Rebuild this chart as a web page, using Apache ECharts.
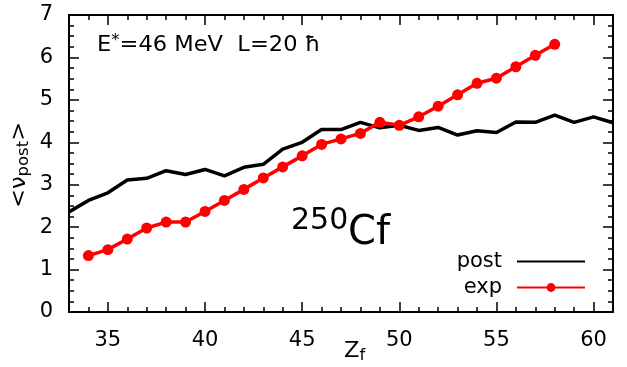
<!DOCTYPE html>
<html>
<head>
<meta charset="utf-8">
<script src="https://cdn.jsdelivr.net/npm/echarts@6/dist/echarts.min.js"></script>
<style>
  html, body { margin: 0; padding: 0; background: #fff; }
  #chart { width: 627px; height: 367px; }
</style>
</head>
<body>
<div id="chart"></div>
<script>
// ---- data ----
const postZ = [33,34,35,36,37,38,39,40,41,42,43,44,45,46,47,48,49,50,51,52,53,54,55,56,57,58,59,60,61];
const postV = [2.36,2.63,2.81,3.11,3.15,3.33,3.24,3.36,3.21,3.41,3.48,3.84,4.00,4.30,4.30,4.47,4.34,4.40,4.28,4.35,4.17,4.27,4.23,4.48,4.47,4.64,4.47,4.60,4.46];
const expZ = [34,35,36,37,38,39,40,41,42,43,44,45,46,47,48,49,50,51,52,53,54,55,56,57,58];
const expV = [1.33,1.47,1.72,1.98,2.12,2.12,2.37,2.63,2.89,3.16,3.42,3.68,3.95,4.08,4.21,4.47,4.40,4.60,4.85,5.12,5.39,5.51,5.78,6.05,6.31];
const xMajorTicks = [35,40,45,50,55,60];
const xMinorTicks = [33,34,35,36,37,38,39,40,41,42,43,44,45,46,47,48,49,50,51,52,53,54,55,56,57,58,59,60,61];
const seriesNames = ['post','exp'];

const FONT = 'DejaVu Sans';
const SX = 1.1; // horizontal text stretch seen in the reference
const chart = echarts.init(document.getElementById('chart'), null, {renderer: 'canvas'});

function xAxisDef(pos, major) {
  return {
    type: 'value', min: 33, max: 61, position: pos,
    axisLine: {show: major, onZero: false, lineStyle: {color: '#000', width: 2}},
    axisTick: {show: true, inside: true, length: major ? 10 : 5,
      customValues: major ? xMajorTicks : xMinorTicks,
      lineStyle: {color: '#000', width: 1.5}},
    axisLabel: {show: major && pos === 'bottom', customValues: xMajorTicks,
      fontFamily: FONT, fontSize: 21, color: '#000', margin: 18},
    splitLine: {show: false}
  };
}
function yAxisDef(pos) {
  return {
    type: 'value', min: 0, max: 7, interval: 1, position: pos,
    axisLine: {show: true, onZero: false, lineStyle: {color: '#000', width: 2}},
    axisTick: {show: true, inside: true, length: 10, lineStyle: {color: '#000', width: 1.5}},
    minorTick: {show: true, splitNumber: 4, length: 5, lineStyle: {color: '#000', width: 1.5}},
    axisLabel: {show: pos === 'left', fontFamily: FONT, fontSize: 21, color: '#000', margin: 16},
    splitLine: {show: false}
  };
}

const option = {
  animation: false,
  backgroundColor: '#fff',
  grid: {left: 69, right: 14, top: 15, bottom: 55, containLabel: false},
  xAxis: [xAxisDef('bottom', true), xAxisDef('bottom', false), xAxisDef('top', true), xAxisDef('top', false)],
  yAxis: [yAxisDef('left'), yAxisDef('right')],
  legend: {
    data: [
      {name: seriesNames[0], itemStyle: {opacity: 0}},
      {name: seriesNames[1]}
    ],
    orient: 'vertical',
    align: 'right',
    right: 36,
    top: 246,
    itemWidth: 68,
    itemHeight: 11,
    itemGap: 5,
    textStyle: {fontFamily: FONT, fontSize: 21, color: '#000', padding: [0, 10, 0, 0]}
  },
  series: [
    {
      name: seriesNames[0], type: 'line', xAxisIndex: 0, yAxisIndex: 0,
      data: postZ.map((z, i) => [z, postV[i]]),
      showSymbol: false, symbol: 'none',
      lineStyle: {color: '#000', width: 3.5},
      itemStyle: {color: '#000'}
    },
    {
      name: seriesNames[1], type: 'line', xAxisIndex: 0, yAxisIndex: 0,
      data: expZ.map((z, i) => [z, expV[i]]),
      symbol: 'circle', symbolSize: 11,
      lineStyle: {color: '#ff0000', width: 3.5},
      itemStyle: {color: '#ff0000'}
    }
  ],
  graphic: [
    {
      type: 'text', x: 97, y: 34, scaleX: SX,
      style: {
        text: '{a|E}{s|*}{a|=46 MeV  L=20 ħ}',
        rich: {
          a: {fontFamily: FONT, fontSize: 20.5, color: '#000', lineHeight: 24},
          s: {fontFamily: FONT, fontSize: 15, color: '#000', verticalAlign: 'top', lineHeight: 24}
        }
      }
    },
    {
      type: 'text', x: 291, y: 221,
      style: {text: '250', fontFamily: FONT, fontSize: 30, fill: '#000', verticalAlign: 'middle', align: 'left'}
    },
    {
      type: 'text', x: 348, y: 234,
      style: {text: 'Cf', fontFamily: FONT, fontSize: 40, fill: '#000', verticalAlign: 'middle', align: 'left'}
    },
    {
      type: 'text', x: 344, y: 340, scaleX: SX,
      style: {
        text: '{a|Z}{b|f}',
        rich: {
          a: {fontFamily: FONT, fontSize: 20.5, color: '#000', lineHeight: 24},
          b: {fontFamily: FONT, fontSize: 15, color: '#000', verticalAlign: 'bottom', lineHeight: 8}
        }
      }
    },
    {
      type: 'text', x: 8, y: 208, rotation: Math.PI / 2, scaleX: SX,
      style: {
        text: '{a|<ν}{b|post}{a|>}',
        rich: {
          a: {fontFamily: FONT, fontSize: 20.5, color: '#000', lineHeight: 24},
          b: {fontFamily: FONT, fontSize: 15, color: '#000', verticalAlign: 'bottom', lineHeight: 10}
        }
      }
    }
  ]
};
chart.setOption(option);
</script>
</body>
</html>
